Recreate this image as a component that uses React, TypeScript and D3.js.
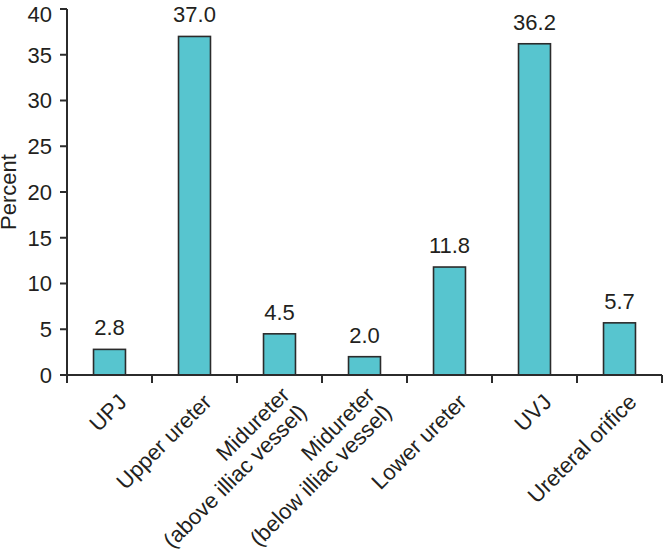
import React from 'react';
import * as d3 from 'd3';

const categories: string[] = [
  'UPJ',
  'Upper ureter',
  'Midureter\n(above illiac vessel)',
  'Midureter\n(below illiac vessel)',
  'Lower ureter',
  'UVJ',
  'Ureteral orifice',
];
const values: number[] = [2.8, 37.0, 4.5, 2.0, 11.8, 36.2, 5.7];
const yTicks: number[] = [0, 5, 10, 15, 20, 25, 30, 35, 40];
const yLabel = 'Percent';

const W = 664;
const H = 550;
const X0 = 67;
const X1 = 662;
const Y0 = 375;
const Y1 = 9;
const FONT = '"Liberation Sans", Arial, Helvetica, sans-serif';
const TEXT = '#231f20';
const AXIS = '#2b2b2b';
const FILL = '#57c5cf';

export default function App() {
  const x = d3.scaleBand<string>().domain(categories).range([X0, X1]).padding(0);
  const y = d3.scaleLinear().domain([0, 40]).range([Y0, Y1]);
  const bw = x.bandwidth() * 0.376;
  const boundaries = d3.range(categories.length + 1).map((i) => X0 + i * x.step());

  return (
    <svg
      width={W}
      height={H}
      style={{ position: 'absolute', left: 0, top: 0, background: '#fff' }}
      fontFamily={FONT}
    >
      {/* bars */}
      {categories.map((c, i) => {
        const cx = (x(c) as number) + x.bandwidth() / 2;
        return (
          <g key={c}>
            <rect
              x={cx - bw / 2}
              y={y(values[i])}
              width={bw}
              height={y(0) - y(values[i])}
              fill={FILL}
              stroke={AXIS}
              strokeWidth={1.6}
            />
            <text
              x={cx}
              y={y(values[i]) - 14}
              textAnchor="middle"
              fontSize={22}
              fill={TEXT}
            >
              {values[i].toFixed(1)}
            </text>
          </g>
        );
      })}

      {/* y axis */}
      <line x1={X0} x2={X0} y1={Y1} y2={Y0} stroke={AXIS} strokeWidth={2} />
      {yTicks.map((t) => (
        <g key={t}>
          <line x1={X0 - 7} x2={X0} y1={y(t)} y2={y(t)} stroke={AXIS} strokeWidth={2} />
          <text
            x={X0 - 15}
            y={Math.max(y(t), 14)}
            dy="0.36em"
            textAnchor="end"
            fontSize={22}
            fill={TEXT}
          >
            {t}
          </text>
        </g>
      ))}
      <text
        transform={`translate(16, ${(Y0 + Y1) / 2}) rotate(-90)`}
        textAnchor="middle"
        fontSize={22}
        fill={TEXT}
      >
        {yLabel}
      </text>

      {/* x axis */}
      <line x1={X0} x2={X1} y1={Y0} y2={Y0} stroke={AXIS} strokeWidth={2} />
      {boundaries.map((bx, i) => (
        <line key={i} x1={bx} x2={bx} y1={Y0} y2={Y0 + 8} stroke={AXIS} strokeWidth={2} />
      ))}
      {categories.map((c) => {
        const cx = (x(c) as number) + x.bandwidth() / 2;
        const lines = c.split('\n');
        const firstDy = lines.length > 1 ? '-0.1em' : '0.35em';
        return (
          <text
            key={c}
            transform={`translate(${cx + 13}, ${Y0 + 23}) rotate(-45)`}
            textAnchor="end"
            fontSize={22}
            fill={TEXT}
          >
            {lines.map((l, j) => (
              <tspan key={j} x={0} dy={j === 0 ? firstDy : '1.1em'}>
                {l}
              </tspan>
            ))}
          </text>
        );
      })}
    </svg>
  );
}
